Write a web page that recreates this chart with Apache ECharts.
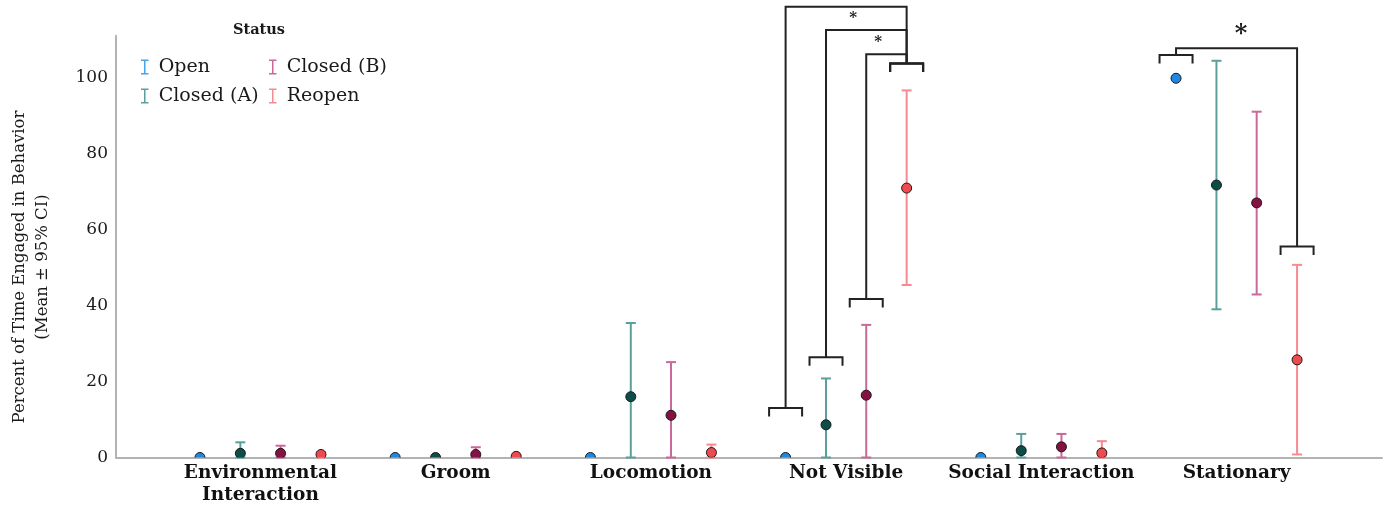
<!DOCTYPE html>
<html>
<head>
<meta charset="utf-8">
<script src="https://cdn.jsdelivr.net/npm/echarts@6/dist/echarts.min.js"></script>
<style>
html,body{margin:0;padding:0;background:#fff;}
#chart{width:1389px;height:507px;}
</style>
</head>
<body>
<div id="chart"></div>
<script>
// ---- data ----
const categories = ['Environmental\nInteraction', 'Groom', 'Locomotion', 'Not Visible', 'Social Interaction', 'Stationary'];
const statuses = ['Open', 'Closed (A)', 'Closed (B)', 'Reopen'];
const yTicks = [0, 20, 40, 60, 80, 100];

const meanOpen = [0, 0, 0, 0, 0, 99.8];
const lowOpen  = [0, 0, 0, 0, 0, 99.8];
const highOpen = [0, 0, 0, 0, 0, 99.8];

const meanClosedA = [1.1, 0, 16.0, 8.6, 1.8, 71.7];
const lowClosedA  = [0, 0, 0, 0, 0, 39.0];
const highClosedA = [4.0, 0, 35.4, 20.8, 6.2, 104.4];

const meanClosedB = [1.1, 0.8, 11.1, 16.4, 2.8, 67.0];
const lowClosedB  = [0, 0, 0, 0, 0, 42.9];
const highClosedB = [3.1, 2.7, 25.1, 34.9, 6.2, 91.0];

const meanReopen = [0.8, 0.3, 1.3, 70.9, 1.2, 25.7];
const lowReopen  = [0, 0.3, 0, 45.4, 0, 0.8];
const highReopen = [1.4, 0.3, 3.4, 96.6, 4.3, 50.7];

// significance comparisons (category, left status, right status, bracket tops, connector level)
const sigCategory = [3, 3, 3, 5];
const sigLeft     = [0, 1, 2, 0];
const sigRight    = [3, 3, 3, 3];
const sigLeftTop  = [13.0, 26.4, 41.7, 105.9];
const sigRightTop = [103.7, 103.7, 103.7, 55.5];
const sigLineY    = [118.6, 112.5, 106.1, 107.7];
// significance stars (x in category units, y in value units)
const starX    = [3.036, 3.164, 5.023];
const starY    = [115.9, 109.7, 112.3];
const starText = ['*', '*', '*'];
const starBig  = [false, false, true];

// ---- styling (not data) ----
const offsets = [-0.31, -0.103, 0.103, 0.31];
const lineColors = ['#45a6ee', '#5b9f9c', '#c9689a', '#f78a8f'];
const dotColors  = ['#1d88e0', '#0c4d48', '#861243', '#ef4a50'];
const FONT = 'DejaVu Serif';

const means = [meanOpen, meanClosedA, meanClosedB, meanReopen];
const lows  = [lowOpen, lowClosedA, lowClosedB, lowReopen];
const highs = [highOpen, highClosedA, highClosedB, highReopen];

const series = [];
statuses.forEach((s, si) => {
  const errData = categories.map((c, ci) => [ci + offsets[si], lows[si][ci], highs[si][ci]]);
  series.push({
    name: s,
    type: 'custom',
    coordinateSystem: 'cartesian2d',
    encode: { x: 0, y: [1, 2] },
    data: errData,
    z: 2,
    renderItem: function (params, api) {
      const x = api.value(0), lo = api.value(1), hi = api.value(2);
      if (hi - lo < 0.5) return null;
      const p1 = api.coord([x, lo]);
      const p2 = api.coord([x, hi]);
      const st = { stroke: lineColors[si], lineWidth: 2 };
      return {
        type: 'group',
        children: [
          { type: 'line', shape: { x1: p1[0], y1: p1[1], x2: p2[0], y2: p2[1] }, style: st },
          { type: 'line', shape: { x1: p1[0] - 5, y1: p1[1], x2: p1[0] + 5, y2: p1[1] }, style: st },
          { type: 'line', shape: { x1: p2[0] - 5, y1: p2[1], x2: p2[0] + 5, y2: p2[1] }, style: st }
        ]
      };
    }
  });
  series.push({
    name: s,
    type: 'custom',
    coordinateSystem: 'cartesian2d',
    encode: { x: 0, y: 1 },
    clip: true,
    data: categories.map((c, ci) => [ci + offsets[si], means[si][ci]]),
    z: 3,
    renderItem: function (params, api) {
      const p = api.coord([api.value(0), api.value(1)]);
      return {
        type: 'circle',
        shape: { cx: p[0], cy: p[1], r: 5 },
        style: { fill: dotColors[si], stroke: '#1b1b1b', lineWidth: 1 }
      };
    }
  });
});

// brackets
series.push({
  type: 'custom',
  coordinateSystem: 'cartesian2d',
  silent: true,
  clip: false,
  z: 4,
  data: sigCategory.map((c, i) => [c + offsets[sigLeft[i]], sigLeftTop[i]]),
  renderItem: function (params, api) {
    const i = params.dataIndex;
    const c = sigCategory[i];
    const lx = c + offsets[sigLeft[i]];
    const rx = c + offsets[sigRight[i]];
    const L = api.coord([lx, sigLeftTop[i]]);
    const R = api.coord([rx, sigRightTop[i]]);
    const Y = api.coord([lx, sigLineY[i]])[1];
    const hw = 16.5, leg = 8.5;
    const st = { stroke: '#222', lineWidth: 2, fill: null };
    const bracket = (p) => ({
      type: 'polyline',
      shape: { points: [[p[0] - hw, p[1] + leg], [p[0] - hw, p[1]], [p[0] + hw, p[1]], [p[0] + hw, p[1] + leg]] },
      style: st
    });
    return {
      type: 'group',
      children: [
        bracket(L),
        bracket(R),
        { type: 'polyline', shape: { points: [[L[0], L[1]], [L[0], Y], [R[0], Y], [R[0], R[1]]] }, style: st }
      ]
    };
  }
});

// stars
series.push({
  type: 'custom',
  coordinateSystem: 'cartesian2d',
  silent: true,
  clip: false,
  z: 5,
  data: starX.map((x, i) => [x, starY[i]]),
  renderItem: function (params, api) {
    const i = params.dataIndex;
    const p = api.coord([api.value(0), api.value(1)]);
    const big = starBig[i];
    return {
      type: 'text',
      x: p[0], y: p[1] + (big ? 4 : 1),
      style: {
        text: starText[i],
        fontFamily: FONT,
        fontSize: big ? 24 : 15,
        fontWeight: 'bold',
        fill: '#1a1a1a',
        align: 'center',
        verticalAlign: 'middle'
      }
    };
  }
});

const chart = echarts.init(document.getElementById('chart'), null, { renderer: 'canvas' });
const legendIcon = 'path://M0,0h8v1.6h-3.2v12.8h3.2v1.6h-8v-1.6h3.2v-12.8h-3.2z';
const legendCommon = {
  orient: 'vertical',
  top: 52,
  itemWidth: 18,
  itemHeight: 15,
  itemGap: 9,
  icon: legendIcon,
  selectedMode: false,
  textStyle: { fontFamily: FONT, fontSize: 19, color: '#1a1a1a', lineHeight: 20 }
};
chart.setOption({
  animation: false,
  backgroundColor: '#fff',
  grid: { left: 116, right: 7, top: 35.7, bottom: 49.5, containLabel: false },
  legend: [
    Object.assign({}, legendCommon, {
      left: 136,
      data: [
        { name: statuses[0], itemStyle: { color: lineColors[0] } },
        { name: statuses[1], itemStyle: { color: lineColors[1] } }
      ]
    }),
    Object.assign({}, legendCommon, {
      left: 264,
      data: [
        { name: statuses[2], itemStyle: { color: lineColors[2] } },
        { name: statuses[3], itemStyle: { color: lineColors[3] } }
      ]
    })
  ],
  graphic: [
    {
      type: 'text', left: 233, top: 23,
      style: { text: 'Status', fontFamily: FONT, fontSize: 14.5, fontWeight: 'bold', fill: '#1a1a1a' }
    },
    {
      type: 'text',
      x: 31, y: 267,
      rotation: Math.PI / 2,
      style: {
        text: 'Percent of Time Engaged in Behavior\n(Mean \u00b1 95% CI)',
        fontFamily: FONT, fontSize: 16.5, lineHeight: 23, fill: '#1a1a1a',
        align: 'center', verticalAlign: 'middle'
      }
    }
  ],
  xAxis: {
    type: 'value',
    min: -0.74,
    max: 5.745,
    splitLine: { show: false },
    axisTick: { show: false },
    axisLine: { show: true, onZero: false, lineStyle: { color: '#b3b3b3', width: 2 } },
    axisLabel: {
      customValues: categories.map((c, i) => i),
      formatter: (v) => categories[Math.round(v)],
      fontFamily: FONT, fontSize: 18.5, fontWeight: 'bold', color: '#111',
      lineHeight: 22, margin: 5
    }
  },
  yAxis: {
    type: 'value',
    min: 0,
    max: 111,
    interval: 20,
    splitLine: { show: false },
    axisTick: { show: false },
    axisLine: { show: true, onZero: false, lineStyle: { color: '#b3b3b3', width: 2 } },
    axisLabel: {
      customValues: yTicks,
      fontFamily: FONT, fontSize: 17, color: '#1a1a1a', margin: 8
    }
  },
  series: series
});
</script>
</body>
</html>
